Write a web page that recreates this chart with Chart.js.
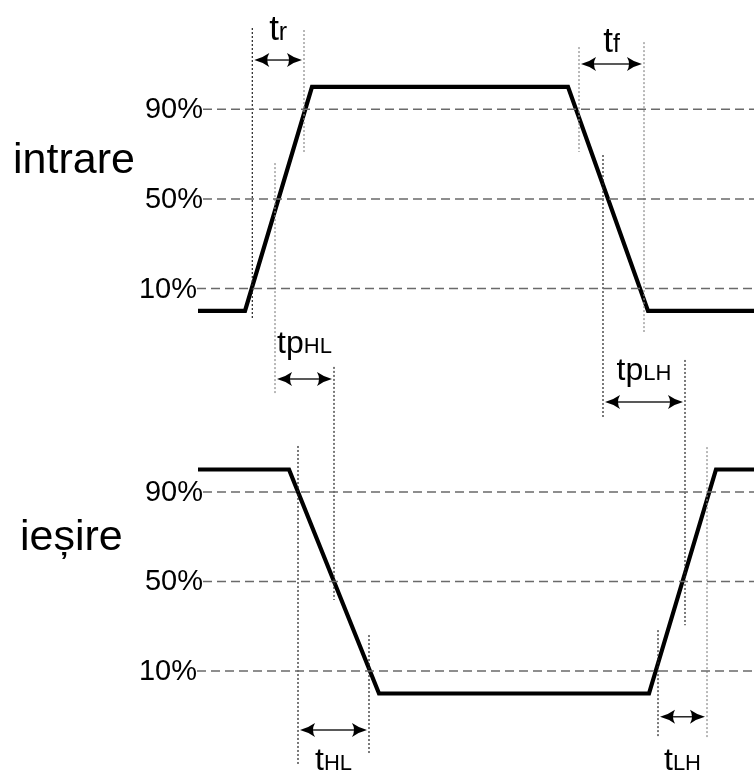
<!DOCTYPE html>
<html>
<head>
<meta charset="utf-8">
<script src="https://cdn.jsdelivr.net/npm/chart.js@4/dist/chart.umd.min.js"></script>
<style>
  html, body { margin: 0; padding: 0; background: #fff; }
  canvas { display: block; }
</style>
</head>
<body>
<canvas id="timingChart" width="754" height="773"></canvas>
<script>
// waveform data (time in arbitrary units, level 0 = low, 1 = high)
const inputTimes = [0, 4.7, 11.4, 37.0, 45.0, 55.6];
const inputLevels = [0, 0, 1, 1, 0, 0];
const outputTimes = [0, 9.1, 18.1, 45.1, 51.8, 55.6];
const outputLevels = [1, 1, 0, 0, 1, 1];

const signalNames = ['intrare', 'ieșire'];
const thresholds = [0.1, 0.5, 0.9];
const thresholdLabels = ['10%', '50%', '90%'];

// timing markers: measured interval start / end
const markerMain = ['t', 't', 'tp', 'tp', 't', 't'];
const markerSub = ['r', 'f', 'HL', 'LH', 'HL', 'LH'];
const markerStart = [5.43, 38.1, 7.7, 40.5, 10.0, 46.0];
const markerEnd = [10.6, 44.6, 13.6, 48.7, 17.1, 50.9];

// layout (vertical offsets of the two traces on the shared level axis)
const INPUT_BASE = 1.708;
const OUTPUT_BASE = 0;
const thresholdStart = [-0.1, 0.5, 0.5];
const startLineTop = [2.971, 2.886, 2.368, 2.404, 1.105, 0.283];
const startLineBottom = [1.672, 2.417, 1.333, 1.225, -0.315, -0.199];
const endLineTop = [2.962, 2.908, 1.458, 1.489, 0.261, 1.100];
const endLineBottom = [2.413, 1.614, 0.417, 0.305, -0.266, -0.199];
const startLineDark = [true, false, false, true, true, true];
const endLineDark = [false, false, true, true, true, false];
const arrowLevel = [2.828, 2.810, 1.404, 1.301, -0.163, -0.104];
const labelLevel = [2.917, 2.864, 1.520, 1.400, -0.342, -0.342];
const mainSize = [35, 35, 32, 32, 32, 32];
const subSize = [25, 25, 22, 22, 22, 22];

const FONT = '"Liberation Sans", Arial, sans-serif';

const toPoints = (times, levels, base) =>
    times.map((t, i) => ({ x: t, y: base + levels[i] }));

const datasets = [];

// threshold dashed lines
[INPUT_BASE, OUTPUT_BASE].forEach(base => {
    thresholds.forEach((lvl, i) => {
        datasets.push({
            data: [{ x: thresholdStart[i], y: base + lvl }, { x: 55.6, y: base + lvl }],
            borderColor: '#6a6a6a',
            borderWidth: 1.5,
            borderDash: [9, 5],
        });
    });
});

// marker vertical dotted lines
markerStart.forEach((t0, i) => {
    datasets.push({
        data: [{ x: t0, y: startLineTop[i] }, { x: t0, y: startLineBottom[i] }],
        borderColor: startLineDark[i] ? '#222' : '#8a8a8a',
        borderWidth: 1.2,
        borderDash: [2, 2],
    });
    datasets.push({
        data: [{ x: markerEnd[i], y: endLineTop[i] }, { x: markerEnd[i], y: endLineBottom[i] }],
        borderColor: endLineDark[i] ? '#222' : '#8a8a8a',
        borderWidth: 1.2,
        borderDash: [2, 2],
    });
});

// waveforms
datasets.push({
    data: toPoints(inputTimes, inputLevels, INPUT_BASE),
    borderColor: '#000',
    borderWidth: 4.2,
    borderJoinStyle: 'miter',
});
datasets.push({
    data: toPoints(outputTimes, outputLevels, OUTPUT_BASE),
    borderColor: '#000',
    borderWidth: 4.2,
    borderJoinStyle: 'miter',
});

// curved "stealth" arrow head, tip at (x, y)
function drawArrowHead(ctx, x, y, dir) {
    ctx.beginPath();
    ctx.moveTo(x, y);
    ctx.quadraticCurveTo(x - dir * 8, y - 2, x - dir * 15, y - 7);
    ctx.quadraticCurveTo(x - dir * 11, y, x - dir * 15, y + 7);
    ctx.quadraticCurveTo(x - dir * 8, y + 2, x, y);
    ctx.closePath();
    ctx.fill();
}

const annotations = {
    id: 'annotations',
    afterDatasetsDraw(chart) {
        const { ctx, scales: { x, y } } = chart;
        ctx.save();
        ctx.fillStyle = '#000';

        // threshold labels
        ctx.font = `29px ${FONT}`;
        ctx.textAlign = 'right';
        ctx.textBaseline = 'middle';
        [INPUT_BASE, OUTPUT_BASE].forEach(base => {
            thresholds.forEach((lvl, i) => {
                ctx.fillText(thresholdLabels[i], x.getPixelForValue(thresholdStart[i]), y.getPixelForValue(base + lvl) + 1);
            });
        });

        // signal names
        ctx.font = `43px ${FONT}`;
        ctx.textAlign = 'left';
        ctx.textBaseline = 'alphabetic';
        ctx.fillText(signalNames[0], x.getPixelForValue(-18.5), y.getPixelForValue(2.324));
        ctx.fillText(signalNames[1], x.getPixelForValue(-17.8), y.getPixelForValue(0.641));

        // arrows and labels
        markerStart.forEach((t0, i) => {
            const x0 = x.getPixelForValue(t0) + 2;
            const x1 = x.getPixelForValue(markerEnd[i]) - 2;
            const ay = y.getPixelForValue(arrowLevel[i]);
            ctx.strokeStyle = '#222';
            ctx.fillStyle = '#000';
            ctx.lineWidth = 1.5;
            ctx.beginPath();
            ctx.moveTo(x0 + 10, ay);
            ctx.lineTo(x1 - 10, ay);
            ctx.stroke();
            drawArrowHead(ctx, x1, ay, 1);
            drawArrowHead(ctx, x0, ay, -1);

            ctx.font = `${mainSize[i]}px ${FONT}`;
            const w1 = ctx.measureText(markerMain[i]).width;
            ctx.font = `${subSize[i]}px ${FONT}`;
            const w2 = ctx.measureText(markerSub[i]).width;
            const left = (x0 + x1) / 2 - (w1 + w2) / 2;
            const by = y.getPixelForValue(labelLevel[i]);
            ctx.font = `${mainSize[i]}px ${FONT}`;
            ctx.fillText(markerMain[i], left, by);
            ctx.font = `${subSize[i]}px ${FONT}`;
            ctx.fillText(markerSub[i], left + w1, by);
        });
        ctx.restore();
    }
};

new Chart(document.getElementById('timingChart'), {
    type: 'line',
    data: { datasets },
    options: {
        responsive: false,
        animation: false,
        layout: { padding: 0 },
        elements: { point: { radius: 0 } },
        plugins: { legend: { display: false }, tooltip: { enabled: false } },
        scales: {
            x: { type: 'linear', min: -19.8, max: 55.6, display: false },
            y: { type: 'linear', min: -0.355, max: 3.096, display: false },
        },
    },
    plugins: [annotations],
});
</script>
</body>
</html>
